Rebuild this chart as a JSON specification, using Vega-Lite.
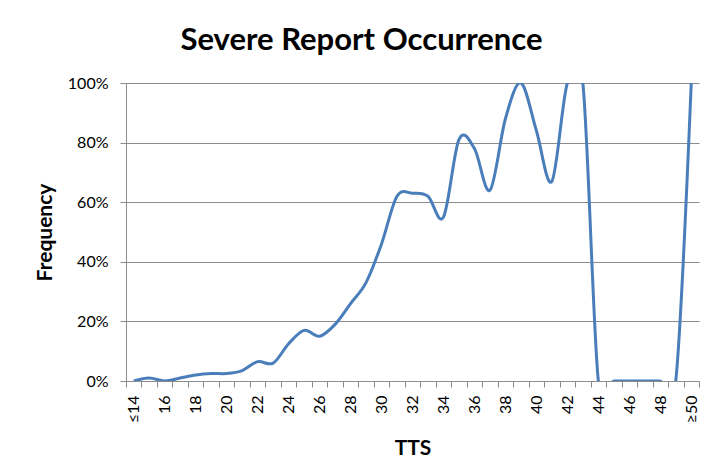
{
  "$schema": "https://vega.github.io/schema/vega-lite/v6.json",
  "width": 573,
  "height": 298,
  "autosize": {"type": "none"},
  "padding": {"left": 126, "top": 83, "right": 12, "bottom": 95},
  "background": "white",
  "title": {
    "text": "Severe Report Occurrence",
    "font": "Lato",
    "fontSize": 31,
    "fontWeight": "bold",
    "color": "#000000",
    "anchor": "middle",
    "frame": "group",
    "dx": -51,
    "offset": 18
  },
  "data": {
    "values": [
      {"TTS": "≤14", "Frequency": 0},
      {"TTS": "15", "Frequency": 0.01},
      {"TTS": "16", "Frequency": 0},
      {"TTS": "17", "Frequency": 0.01},
      {"TTS": "18", "Frequency": 0.02},
      {"TTS": "19", "Frequency": 0.025},
      {"TTS": "20", "Frequency": 0.025},
      {"TTS": "21", "Frequency": 0.035},
      {"TTS": "22", "Frequency": 0.065},
      {"TTS": "23", "Frequency": 0.06},
      {"TTS": "24", "Frequency": 0.125},
      {"TTS": "25", "Frequency": 0.17},
      {"TTS": "26", "Frequency": 0.15},
      {"TTS": "27", "Frequency": 0.19},
      {"TTS": "28", "Frequency": 0.26},
      {"TTS": "29", "Frequency": 0.33},
      {"TTS": "30", "Frequency": 0.46},
      {"TTS": "31", "Frequency": 0.62},
      {"TTS": "32", "Frequency": 0.63},
      {"TTS": "33", "Frequency": 0.62},
      {"TTS": "34", "Frequency": 0.55},
      {"TTS": "35", "Frequency": 0.81},
      {"TTS": "36", "Frequency": 0.78},
      {"TTS": "37", "Frequency": 0.64},
      {"TTS": "38", "Frequency": 0.88},
      {"TTS": "39", "Frequency": 1.0},
      {"TTS": "40", "Frequency": 0.84},
      {"TTS": "41", "Frequency": 0.67},
      {"TTS": "42", "Frequency": 1.0},
      {"TTS": "43", "Frequency": 1.0},
      {"TTS": "44", "Frequency": 0},
      {"TTS": "45", "Frequency": 0},
      {"TTS": "46", "Frequency": 0},
      {"TTS": "47", "Frequency": 0},
      {"TTS": "48", "Frequency": 0},
      {"TTS": "49", "Frequency": 0},
      {"TTS": "≥50", "Frequency": 1.0}
    ]
  },
  "mark": {
    "type": "line",
    "interpolate": "cardinal",
    "tension": 0,
    "color": "#4A7EBB",
    "strokeWidth": 3,
    "clip": true
  },
  "encoding": {
    "x": {
      "field": "TTS",
      "type": "ordinal",
      "sort": null,
      "bandPosition": 0.5,
      "scale": {"type": "band", "paddingInner": 0, "paddingOuter": 0},
      "axis": {
        "title": "TTS",
        "titleFont": "Lato",
        "titleFontSize": 21,
        "titleFontWeight": "bold",
        "titleColor": "#000000",
        "titlePadding": 15,
        "labelAngle": -90,
        "labelFont": "Lato",
        "labelFontSize": 16,
        "labelColor": "#000000",
        "labelPadding": 8,
        "labelOverlap": false,
        "labelExpr": "(datum.value == '≤14' || datum.value == '≥50' || toNumber(datum.value) % 2 == 0) ? datum.label : ''",
        "tickBand": "extent",
        "tickSize": 6,
        "tickColor": "#8C8C8C",
        "domainColor": "#8C8C8C",
        "grid": false
      }
    },
    "y": {
      "field": "Frequency",
      "type": "quantitative",
      "scale": {"domain": [0, 1], "nice": false},
      "axis": {
        "title": "Frequency",
        "titleFont": "Lato",
        "titleFontSize": 21,
        "titleFontWeight": "bold",
        "titleColor": "#000000",
        "titlePadding": 12,
        "format": ".0%",
        "values": [0, 0.2, 0.4, 0.6, 0.8, 1],
        "labelFont": "Lato",
        "labelFontSize": 16,
        "labelColor": "#000000",
        "labelPadding": 12,
        "tickSize": 6,
        "tickColor": "#8C8C8C",
        "domainColor": "#8C8C8C",
        "grid": true,
        "gridColor": "#8C8C8C",
        "gridWidth": 1
      }
    }
  },
  "config": {"view": {"stroke": null}}
}
